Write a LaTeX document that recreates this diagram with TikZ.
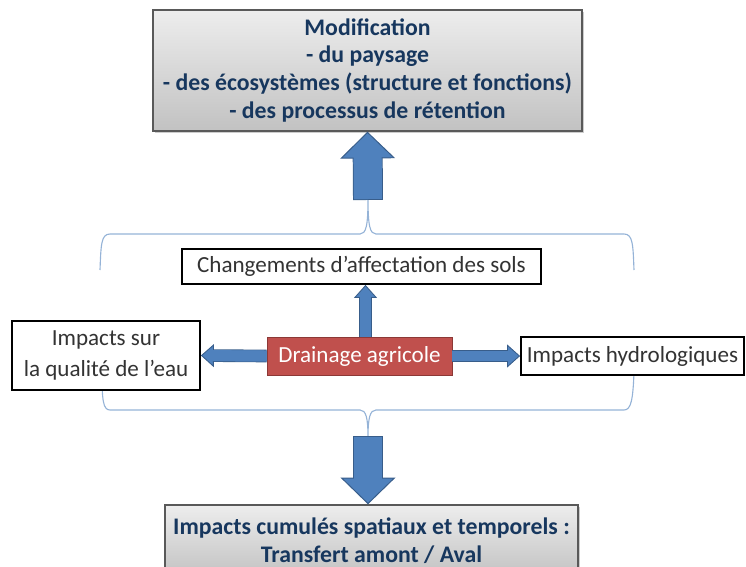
\documentclass[tikz,border=0pt]{standalone}
\usepackage{fontspec}
\setmainfont{Carlito}
\usetikzlibrary{arrows.meta,shadows}
\definecolor{arrowblue}{HTML}{4F81BD}
\definecolor{arrowedge}{HTML}{385D8A}
\definecolor{bracecol}{HTML}{95B3D7}
\definecolor{drainred}{HTML}{C0504D}
\definecolor{drainedge}{HTML}{8C3836}
\definecolor{titleblue}{HTML}{17375E}
\def\px{0.025cm}
\def\txt{\fontsize{16.4}{19.9}\selectfont}

\tikzset{
  graybox/.style={draw=black!65, line width=1pt, top color=black!7, bottom color=black!24,
    font=\bfseries\fontsize{16.9}{19.9}\selectfont, text=titleblue, align=center, inner sep=0pt,
    drop shadow={shadow xshift=1.5pt, shadow yshift=-1.5pt, opacity=0.4}},
  whitebox/.style={draw=black, line width=1.3pt, fill=white, font=\txt, text=black!80,
    align=center, inner sep=0pt,
    drop shadow={shadow xshift=0.8pt, shadow yshift=-0.8pt, opacity=0.35}},
  redbox/.style={draw=drainedge, line width=0.6pt, fill=drainred, text=white, font=\txt, inner sep=0pt},
  brace/.style={draw=bracecol, line width=0.8pt},
  bigarrow/.style={draw=arrowblue, line width=19.9pt,
    -{Triangle[width=39pt, length=19pt, line width=0.7pt, color=arrowedge, fill=arrowblue]},
    preaction={draw=arrowedge, line width=21.3pt, shorten >=18pt, shorten <=-0.7pt, -},
    postaction={draw=arrowblue, line width=19.9pt, shorten >=17pt, -}},
  smallarrow/.style={draw=arrowblue, line width=7.8pt,
    -{Triangle[width=16.3pt, length=9.2pt, line width=0.6pt, color=arrowedge, fill=arrowblue]},
    preaction={draw=arrowedge, line width=9pt, shorten >=8.5pt, -},
    postaction={draw=arrowblue, line width=7.8pt, shorten >=8pt, -}}
}

\begin{document}
\begin{tikzpicture}[x=\px, y=-\px]

\clip (0,0) rectangle (746,567);

% braces
\coordinate (T1) at (368,199);
\coordinate (T2) at (368,437);
\draw[brace] (100,270) .. controls (101,245) and (101,234) .. (110,234) -- (360,234)
   .. controls (366,234) and (368,226) .. (T1)
   .. controls (368,226) and (370,234) .. (376,234) -- (624,234)
   .. controls (633,234) and (633,245) .. (634,270);
\draw[brace] (102,372) .. controls (102,400) and (103,410) .. (110,410) -- (360,410)
   .. controls (366,410) and (368,418) .. (T2)
   .. controls (368,418) and (370,410) .. (376,410) -- (624,410)
   .. controls (631,410) and (633,400) .. (634,372);

% boxes
\node[graybox, minimum width=429*\px, minimum height=121*\px] (M) at (367.5,70.5)
  {Modification\\- du paysage\\- des écosystèmes (structure et fonctions)\\- des processus de rétention};
\node[whitebox, minimum width=359*\px, minimum height=35*\px] (C) at (361.5,266.5)
  {Changements d’affectation des sols};
\node[whitebox, minimum width=188*\px, minimum height=69*\px] (Q) at (106,355.5)
  {Impacts sur\\[2pt]la qualité de l’eau};
\node[redbox, minimum width=185*\px, minimum height=38*\px] (D) at (359.5,356)
  {Drainage agricole};
\node[whitebox, minimum width=223*\px, minimum height=38*\px] (H) at (632.5,356)
  {Impacts hydrologiques};
\node[graybox, minimum width=413*\px, minimum height=72*\px] (I) at (371.5,541)
  {Impacts cumulés spatiaux et temporels :\\Transfert amont / Aval};

% arrows
\draw[bigarrow] (T1) -- (M.south);
\draw[bigarrow] (T2) -- (T2 |- I.north);
\draw[smallarrow] ([xshift=6*\px]D.north) -- ([xshift=6*\px]D.north |- C.south);
\draw[smallarrow] (D.west) -- (Q.east);
\draw[smallarrow] (D.east) -- (H.west);

\end{tikzpicture}
\end{document}
